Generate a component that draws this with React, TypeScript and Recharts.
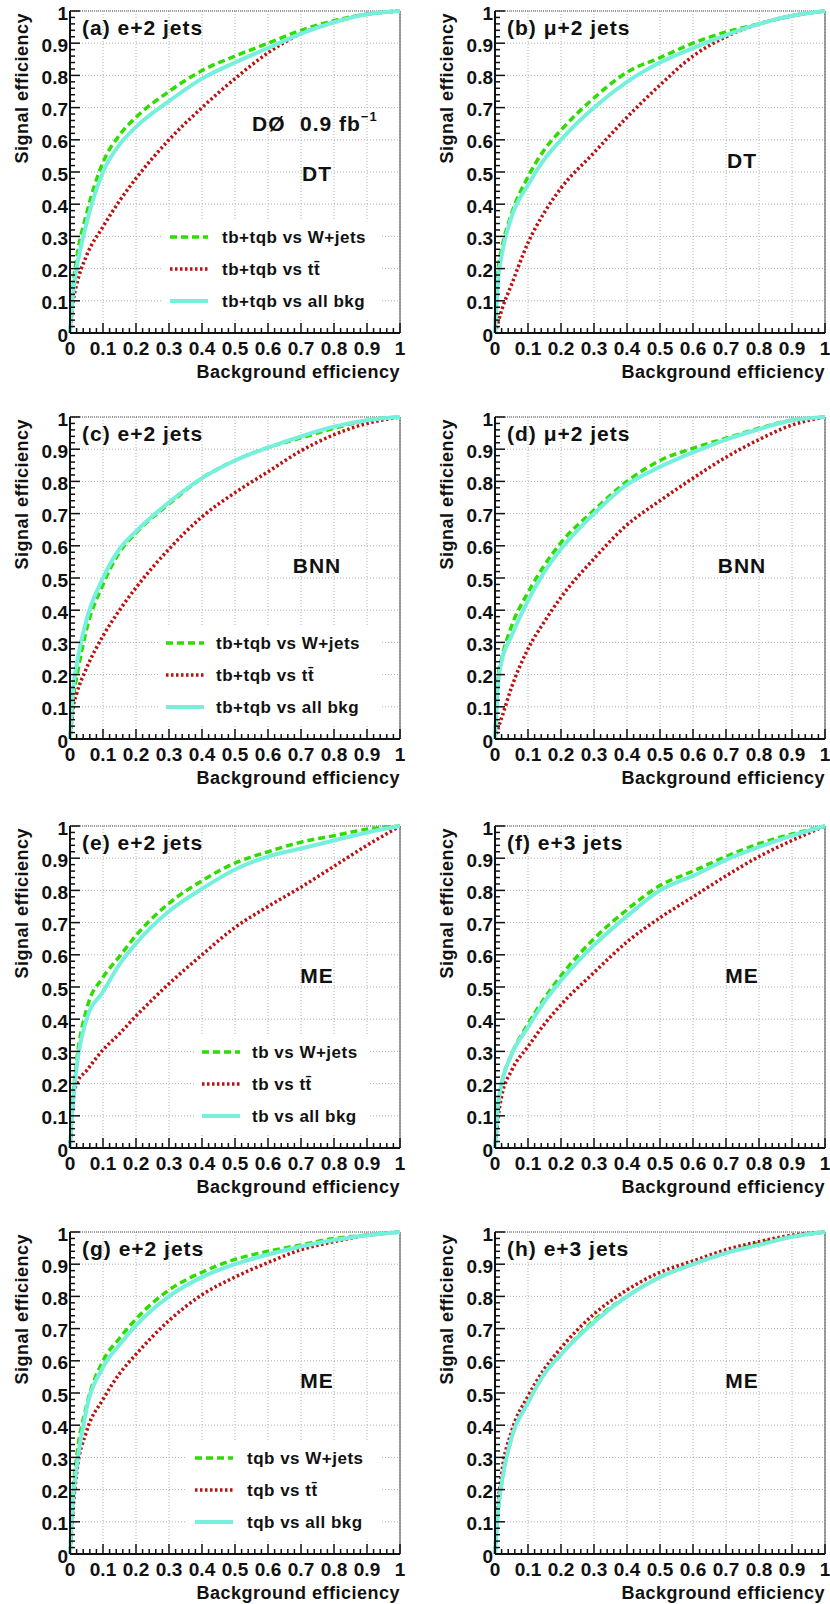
import React from 'react';
import { LineChart, Line, XAxis, YAxis, CartesianGrid, ReferenceLine } from 'recharts';

// background efficiency sample points (shared by every curve)
const BKG_EFF = [0, 0.01, 0.02, 0.05, 0.1, 0.15, 0.2, 0.3, 0.4, 0.5, 0.6, 0.7, 0.8, 0.9, 1];

// (a) DT, e+2 jets
const A_WJETS = [0, 0.15, 0.23, 0.37, 0.53, 0.615, 0.67, 0.75, 0.815, 0.86, 0.9, 0.94, 0.97, 0.99, 1];
const A_TTBAR = [0, 0.1, 0.15, 0.24, 0.33, 0.41, 0.48, 0.6, 0.7, 0.79, 0.87, 0.93, 0.965, 0.99, 1];
const A_ALL = [0, 0.13, 0.2, 0.34, 0.5, 0.585, 0.64, 0.72, 0.79, 0.84, 0.885, 0.93, 0.965, 0.99, 1];

// (b) DT, mu+2 jets
const B_WJETS = [0, 0.2, 0.26, 0.37, 0.485, 0.57, 0.63, 0.73, 0.81, 0.855, 0.9, 0.935, 0.96, 0.985, 1];
const B_TTBAR = [0, 0.035, 0.07, 0.15, 0.28, 0.375, 0.45, 0.56, 0.67, 0.77, 0.86, 0.92, 0.96, 0.985, 1];
const B_ALL = [0, 0.17, 0.24, 0.36, 0.46, 0.54, 0.6, 0.7, 0.78, 0.84, 0.885, 0.925, 0.96, 0.985, 1];

// (c) BNN, e+2 jets
const C_WJETS = [0, 0.13, 0.19, 0.34, 0.48, 0.58, 0.64, 0.73, 0.81, 0.865, 0.905, 0.935, 0.965, 0.99, 1];
const C_TTBAR = [0, 0.1, 0.14, 0.22, 0.32, 0.4, 0.47, 0.59, 0.69, 0.765, 0.83, 0.895, 0.945, 0.98, 1];
const C_ALL = [0, 0.16, 0.23, 0.37, 0.5, 0.59, 0.645, 0.735, 0.81, 0.865, 0.905, 0.94, 0.97, 0.99, 1];

// (d) BNN, mu+2 jets
const D_WJETS = [0, 0.2, 0.25, 0.35, 0.455, 0.54, 0.61, 0.71, 0.8, 0.865, 0.903, 0.934, 0.965, 0.99, 1];
const D_TTBAR = [0, 0.035, 0.065, 0.16, 0.28, 0.365, 0.44, 0.56, 0.665, 0.74, 0.81, 0.875, 0.93, 0.975, 1];
const D_ALL = [0, 0.18, 0.24, 0.32, 0.43, 0.52, 0.59, 0.7, 0.79, 0.845, 0.89, 0.93, 0.962, 0.99, 1];

// (e) ME, e+2 jets (tb)
const E_WJETS = [0, 0.17, 0.27, 0.43, 0.53, 0.595, 0.66, 0.76, 0.83, 0.885, 0.92, 0.95, 0.97, 0.99, 1];
const E_TTBAR = [0, 0.15, 0.2, 0.24, 0.305, 0.355, 0.41, 0.51, 0.6, 0.685, 0.75, 0.81, 0.875, 0.94, 1];
const E_ALL = [0, 0.15, 0.25, 0.4, 0.485, 0.57, 0.635, 0.735, 0.805, 0.865, 0.905, 0.93, 0.955, 0.98, 1];

// (f) ME, e+3 jets (tb)
const F_WJETS = [0, 0.14, 0.2, 0.29, 0.385, 0.465, 0.535, 0.65, 0.74, 0.815, 0.86, 0.905, 0.945, 0.975, 1];
const F_TTBAR = [0, 0.1, 0.16, 0.24, 0.315, 0.385, 0.445, 0.545, 0.64, 0.715, 0.78, 0.845, 0.905, 0.955, 1];
const F_ALL = [0, 0.14, 0.2, 0.29, 0.375, 0.455, 0.52, 0.63, 0.72, 0.8, 0.845, 0.895, 0.935, 0.97, 1];

// (g) ME, e+2 jets (tqb)
const G_WJETS = [0, 0.2, 0.3, 0.46, 0.6, 0.67, 0.73, 0.82, 0.875, 0.915, 0.94, 0.96, 0.98, 0.99, 1];
const G_TTBAR = [0, 0.15, 0.25, 0.38, 0.48, 0.56, 0.62, 0.725, 0.805, 0.86, 0.905, 0.945, 0.97, 0.99, 1];
const G_ALL = [0, 0.18, 0.27, 0.45, 0.58, 0.65, 0.71, 0.8, 0.86, 0.9, 0.93, 0.955, 0.975, 0.99, 1];

// (h) ME, e+3 jets (tqb)
const H_WJETS = [0, 0.14, 0.22, 0.36, 0.47, 0.56, 0.62, 0.725, 0.8, 0.86, 0.9, 0.935, 0.965, 0.985, 1];
const H_TTBAR = [0, 0.16, 0.25, 0.38, 0.49, 0.575, 0.64, 0.745, 0.82, 0.875, 0.91, 0.945, 0.97, 0.99, 1];
const H_ALL = [0, 0.14, 0.22, 0.36, 0.47, 0.56, 0.62, 0.72, 0.8, 0.86, 0.9, 0.935, 0.96, 0.985, 1];

const MAJOR_TICKS = [0, 0.1, 0.2, 0.3, 0.4, 0.5, 0.6, 0.7, 0.8, 0.9, 1];
const TICK_LABELS = ['0', '0.1', '0.2', '0.3', '0.4', '0.5', '0.6', '0.7', '0.8', '0.9', '1'];
const MINOR_TICKS = Array.from({ length: 51 }, (_, i) => i / 50);

const LEGEND_TBTQB = ['tb+tqb vs W+jets', 'tb+tqb vs tt\u0304', 'tb+tqb vs all bkg'];
const LEGEND_TB = ['tb vs W+jets', 'tb vs tt\u0304', 'tb vs all bkg'];
const LEGEND_TQB = ['tqb vs W+jets', 'tqb vs tt\u0304', 'tqb vs all bkg'];

const GREEN = '#2fdc00';
const RED = '#bb1111';
const CYAN = '#76f0dc';
const FONT = '"Liberation Sans", Arial, Helvetica, sans-serif';

const PANEL_W = 415;
const PANEL_H = 406;
const PLOT_TOP = 11;
const PLOT_W = 330;
const PLOT_H = 322;
const X_AXIS_H = 40;
const Y_AXIS_W = 60;
const ROW_TOPS = [0, 406, 815, 1221];
const COL_LEFTS = [0, 415];
const PLOT_LEFTS = [70, 80];

const PANELS = [
    { tag: '(a) e+2 jets', method: 'DT', methodY: 162, lumi: true, w: A_WJETS, t: A_TTBAR, all: A_ALL, legend: LEGEND_TBTQB, lx: 100, tx: 152 },
    { tag: '(b) \u03bc+2 jets', method: 'DT', methodY: 149, w: B_WJETS, t: B_TTBAR, all: B_ALL },
    { tag: '(c) e+2 jets', method: 'BNN', methodY: 148, w: C_WJETS, t: C_TTBAR, all: C_ALL, legend: LEGEND_TBTQB, lx: 96, tx: 146 },
    { tag: '(d) \u03bc+2 jets', method: 'BNN', methodY: 148, w: D_WJETS, t: D_TTBAR, all: D_ALL },
    { tag: '(e) e+2 jets', method: 'ME', methodY: 149, w: E_WJETS, t: E_TTBAR, all: E_ALL, legend: LEGEND_TB, lx: 132, tx: 182 },
    { tag: '(f) e+3 jets', method: 'ME', methodY: 149, w: F_WJETS, t: F_TTBAR, all: F_ALL },
    { tag: '(g) e+2 jets', method: 'ME', methodY: 148, w: G_WJETS, t: G_TTBAR, all: G_ALL, legend: LEGEND_TQB, lx: 125, tx: 177 },
    { tag: '(h) e+3 jets', method: 'ME', methodY: 148, w: H_WJETS, t: H_TTBAR, all: H_ALL }
];

const isMajor = (v: number) => Math.abs(v * 10 - Math.round(v * 10)) < 1e-6;

const XTick = (props: any) => {
    const { x, y, payload } = props;
    const v = payload.value;
    const major = isMajor(v);
    return (
        <g>
            <line x1={x} x2={x} y1={y} y2={y - (major ? 10 : 5)} stroke="#111" strokeWidth={1.5} />
            {major && (
                <text x={x} y={y + 15} textAnchor="middle" dominantBaseline="central"
                    fontFamily={FONT} fontWeight="bold" fontSize={19} fill="#111">
                    {TICK_LABELS[Math.round(v * 10)]}
                </text>
            )}
        </g>
    );
};

const YTick = (props: any) => {
    const { x, y, payload } = props;
    const v = payload.value;
    const major = isMajor(v);
    return (
        <g>
            <line x1={x} x2={x + (major ? 10 : 5)} y1={y} y2={y} stroke="#111" strokeWidth={1.5} />
            {major && (
                <text x={x - 2} y={y + 2} textAnchor="end" dominantBaseline="central"
                    fontFamily={FONT} fontWeight="bold" fontSize={19} fill="#111">
                    {TICK_LABELS[Math.round(v * 10)]}
                </text>
            )}
        </g>
    );
};

function Panel({ p, idx }: { p: any; idx: number }) {
    const col = idx % 2;
    const row = Math.floor(idx / 2);
    const pl = PLOT_LEFTS[col];
    const pt = PLOT_TOP;
    const pr = pl + PLOT_W;
    const pb = pt + PLOT_H;
    const data = BKG_EFF.map((x, i) => ({ x, w: p.w[i], t: p.t[i], all: p.all[i] }));
    const rows = [226, 258, 290];

    return (
        <div style={{ position: 'absolute', left: COL_LEFTS[col], top: ROW_TOPS[row], width: PANEL_W, height: PANEL_H }}>
            <LineChart width={PANEL_W} height={PANEL_H} data={data}
                margin={{ top: pt, left: pl - Y_AXIS_W, right: PANEL_W - pr, bottom: PANEL_H - pb - X_AXIS_H }}>
                <CartesianGrid horizontalValues={MAJOR_TICKS} verticalValues={MAJOR_TICKS}
                    stroke="#a9b3b3" strokeDasharray="1 2" />
                <XAxis type="number" dataKey="x" domain={[0, 1]} ticks={MINOR_TICKS} interval={0}
                    height={X_AXIS_H} tickSize={0} tickMargin={0} tickLine={false}
                    axisLine={{ stroke: '#111', strokeWidth: 2 }} tick={<XTick />} />
                <YAxis type="number" domain={[0, 1]} ticks={MINOR_TICKS} interval={0}
                    width={Y_AXIS_W} tickSize={0} tickMargin={0} tickLine={false}
                    axisLine={{ stroke: '#111', strokeWidth: 2 }} tick={<YTick />} />
                <ReferenceLine y={1} stroke="#555" strokeDasharray="1 1" />
                <ReferenceLine x={1} stroke="#444" />
                <Line type="monotone" dataKey="w" stroke={GREEN} strokeWidth={3.5} strokeDasharray="7 4"
                    dot={false} isAnimationActive={false} />
                <Line type="monotone" dataKey="t" stroke={RED} strokeWidth={3.5} strokeDasharray="2.5 2.5"
                    dot={false} isAnimationActive={false} />
                <Line type="monotone" dataKey="all" stroke={CYAN} strokeWidth={4}
                    dot={false} isAnimationActive={false} />
            </LineChart>
            <svg width={PANEL_W} height={PANEL_H}
                style={{ position: 'absolute', left: 0, top: 0, pointerEvents: 'none' }}
                fontFamily={FONT} fontWeight="bold" fill="#111">
                <text x={pl + 12} y={pt + 24} fontSize={21} letterSpacing={1}>{p.tag}</text>
                <text x={pl + 247} y={pt + p.methodY} fontSize={21} letterSpacing={1}
                    textAnchor="middle" dominantBaseline="central">{p.method}</text>
                {p.lumi && (
                    <g fontSize={21} letterSpacing={1}>
                        <text x={pl + 182} y={pt + 112} dominantBaseline="central">{'D\u00d8'}</text>
                        <text x={pl + 230} y={pt + 112} dominantBaseline="central">
                            0.9 fb<tspan dy={-7} fontSize={13}>{'\u22121'}</tspan>
                        </text>
                    </g>
                )}
                <text transform={`translate(${pl - 48}, ${pt + 2}) rotate(-90)`} textAnchor="end"
                    dominantBaseline="central" fontSize={18} letterSpacing={0.5}>Signal efficiency</text>
                <text x={pr} y={pb + 39} textAnchor="end" dominantBaseline="central"
                    fontSize={18} letterSpacing={0.5}>Background efficiency</text>
                {p.legend && (
                    <g>
                        <rect x={pl + p.lx - 8} y={pt + rows[0] - 17} width={312 - p.lx + 8 - (p.legend === LEGEND_TB ? 12 : 0)}
                            height={rows[2] - rows[0] + 34} fill="#fff" />
                        {[GREEN, RED, CYAN].map((c, i) => (
                            <line key={c} x1={pl + p.lx} x2={pl + p.lx + 38} y1={pt + rows[i]} y2={pt + rows[i]}
                                stroke={c} strokeWidth={i === 2 ? 4 : 3.5}
                                strokeDasharray={i === 0 ? '7 4' : i === 1 ? '2.5 2.5' : undefined} />
                        ))}
                        {p.legend.map((s: string, i: number) => (
                            <text key={s} x={pl + p.tx} y={pt + rows[i]} dominantBaseline="central"
                                fontSize={17} letterSpacing={0.5}>{s}</text>
                        ))}
                    </g>
                )}
            </svg>
        </div>
    );
}

export default function App() {
    return (
        <div style={{ position: 'absolute', left: 0, top: 0, width: 830, height: 1604, background: '#fff' }}>
            {PANELS.map((p, i) => (
                <Panel key={p.tag + i} p={p} idx={i} />
            ))}
        </div>
    );
}
